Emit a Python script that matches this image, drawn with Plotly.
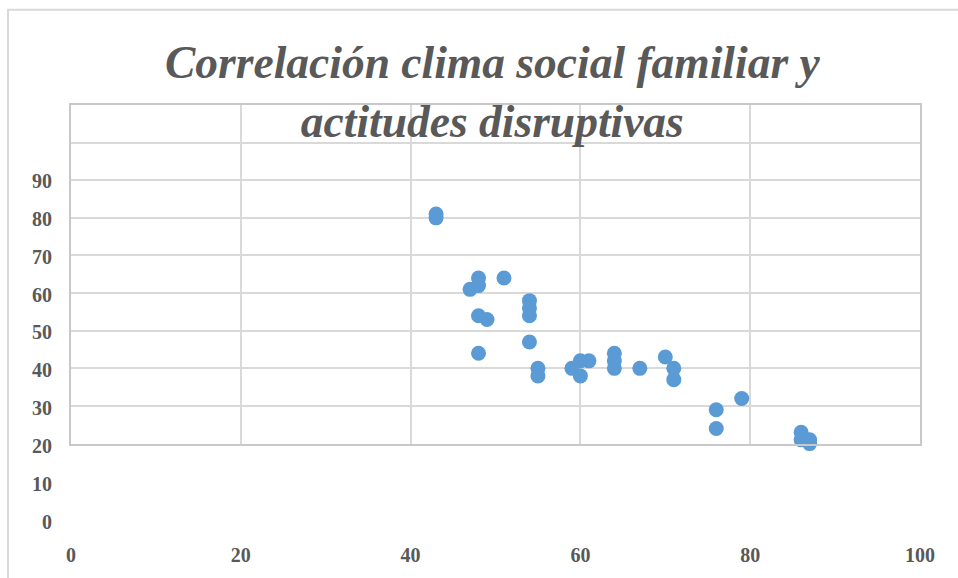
import plotly.graph_objects as go

# clima social familiar (x) vs actitudes disruptivas (y)
clima = [43, 43, 48, 48, 47, 51, 48, 49, 48, 54, 54, 54, 54, 55, 55, 59, 60, 61, 60,
         64, 64, 64, 67, 70, 71, 71, 76, 76, 79, 86, 86, 87, 87]
actitudes = [81, 80, 64, 62, 61, 64, 54, 53, 44, 58, 56, 54, 47, 40, 38, 40, 42, 42, 38,
             44, 42, 40, 40, 43, 40, 37, 29, 24, 32, 23, 21, 21, 20]

x_ticks = [0, 20, 40, 60, 80, 100]
y_ticks = [0, 10, 20, 30, 40, 50, 60, 70, 80, 90]

TITLE = "Correlación clima social familiar y<br>actitudes disruptivas"
GRID = "#d9d9d9"
TEXT = "#595959"
tick_font = {"family": "Liberation Serif", "size": 20, "color": TEXT, "weight": "bold"}

fig = go.Figure()
fig.add_trace(go.Scatter(
    x=clima, y=actitudes, mode="markers", cliponaxis=False,
    marker={"size": 15, "color": "#5b9bd5", "line": {"width": 0}},
    showlegend=False, hoverinfo="x+y",
))
# empty trace so the label axes get drawn
fig.add_trace(go.Scatter(x=[], y=[], xaxis="x2", yaxis="y2", showlegend=False))

fig.update_layout(
    width=958, height=578,
    paper_bgcolor="white", plot_bgcolor="rgba(0,0,0,0)",
    margin={"l": 71, "r": 38, "t": 105, "b": 53},
    xaxis={
        "range": [0, 100], "dtick": 20, "showgrid": True, "gridcolor": GRID, "gridwidth": 2,
        "showticklabels": False, "zeroline": False, "showline": True, "linecolor": "#c8c8c8",
        "linewidth": 2, "mirror": True, "anchor": "y", "domain": [0, 1],
    },
    yaxis={
        "range": [20, 110], "dtick": 10, "showgrid": True, "gridcolor": GRID, "gridwidth": 2,
        "showticklabels": False, "zeroline": False, "showline": True, "linecolor": "#c8c8c8",
        "linewidth": 2, "mirror": True, "domain": [0.188, 1], "anchor": "x",
    },
    xaxis2={
        "range": [0, 100], "tickvals": x_ticks, "showgrid": False, "zeroline": False,
        "showline": False, "anchor": "y2", "domain": [0, 1], "tickfont": tick_font,
        "ticklabelstandoff": 19,
    },
    yaxis2={
        "range": [0, 110], "tickvals": y_ticks, "showgrid": False, "zeroline": False,
        "showline": False, "anchor": "x2", "domain": [0, 1], "tickfont": tick_font,
        "ticklabelstandoff": 18,
    },
    shapes=[{
        "type": "rect", "xref": "paper", "yref": "paper",
        "x0": -0.0742, "x1": 1.3, "y0": -0.3, "y1": 1.2286,
        "line": {"color": GRID, "width": 2}, "layer": "below",
    }],
    annotations=[{
        "text": TITLE, "xref": "paper", "yref": "paper", "x": 0.496, "y": 1.032,
        "xanchor": "center", "yanchor": "middle", "showarrow": False,
        "font": {"family": "Liberation Serif", "size": 45.5, "color": TEXT,
                 "weight": "bold", "style": "italic"},
    }],
)

fig.write_html("out.html", config={"displayModeBar": False},
               post_script="document.body.style.margin='0';")
